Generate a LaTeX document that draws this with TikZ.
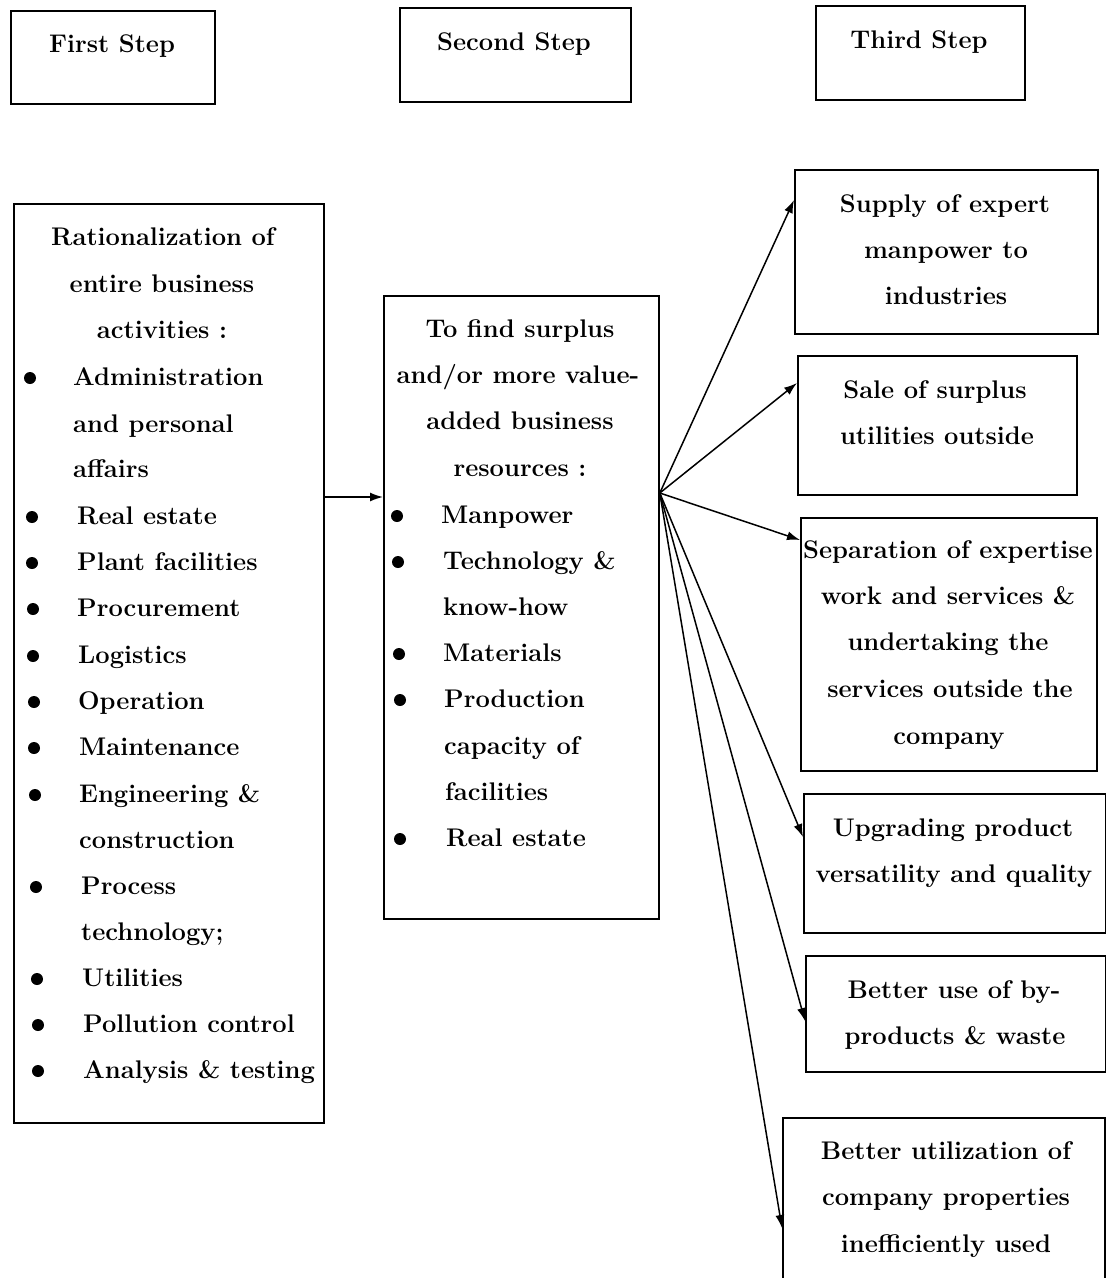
\documentclass[tikz,border=0pt]{standalone}
\usetikzlibrary{arrows.meta}
\newcommand{\dfont}{\fontsize{25.5}{46}\selectfont\bfseries}
\begin{document}
\begin{tikzpicture}[x=1pt,y=-1pt,
  box/.style={draw, line width=1.8pt, inner sep=0, anchor=north west},
  lt/.style={font=\dfont, inner sep=0, anchor=base west, yshift=-7pt},
  ct/.style={font=\dfont, inner sep=0, anchor=base, yshift=-7pt},
  arr/.style={-{Latex[length=13pt,width=9pt]}, line width=1.5pt},
  dot/.style={fill, circle, inner sep=0, minimum size=12pt}]
\useasboundingbox (0,0) rectangle (1106,1278);
\clip (0,0) rectangle (1106,1278);
% step boxes
\node[box, minimum width=204pt, minimum height=93pt] (s1) at (10,10) {};
\node[box, minimum width=231pt, minimum height=94pt] (s2) at (399,7) {};
\node[box, minimum width=209pt, minimum height=94pt] (s3) at (815,5) {};
\node[ct] (s1t) at (112,45) {First Step};
\node[ct] (s2t) at (514,43) {Second Step};
\node[ct] (s3t) at (919,41) {Third Step};
% main boxes
\node[box, minimum width=310pt, minimum height=919pt] (l) at (13,203) {};
\node[box, minimum width=275pt, minimum height=623pt] (m) at (383,295) {};
\node[box, minimum width=303pt, minimum height=164pt] (r1) at (794,169) {};
\node[box, minimum width=279pt, minimum height=139pt] (r2) at (797,355) {};
\node[box, minimum width=296pt, minimum height=253pt] (r3) at (800,517) {};
\node[box, minimum width=302pt, minimum height=139pt] (r4) at (803,793) {};
\node[box, minimum width=300pt, minimum height=116pt] (r5) at (805,955) {};
\node[box, minimum width=322pt, minimum height=200pt] (r6) at (782,1117) {};
% left box text
\node[ct] (l1) at (163,238) {Rationalization of};
\node[ct] (l2) at (162,285) {entire business};
\node[ct] (l3) at (162,331) {activities :};
\node[dot] (b1) at (30,378) {};  \node[lt] (l4) at (73,378) {Administration};
\node[lt] (l5) at (73,425) {and personal};
\node[lt] (l6) at (73,470) {affairs};
\node[dot] (b2) at (32,517) {};  \node[lt] (l7) at (77,517) {Real estate};
\node[dot] (b3) at (32,563) {};  \node[lt] (l8) at (77,563) {Plant facilities};
\node[dot] (b4) at (33,609) {};  \node[lt] (l9) at (77,609) {Procurement};
\node[dot] (b5) at (33,656) {};  \node[lt] (l10) at (78,656) {Logistics};
\node[dot] (b6) at (34,702) {};  \node[lt] (l11) at (78,702) {Operation};
\node[dot] (b7) at (34,748) {};  \node[lt] (l12) at (79,748) {Maintenance};
\node[dot] (b8) at (35,795) {};  \node[lt] (l13) at (79,795) {Engineering \&};
\node[lt] (l14) at (79,841) {construction};
\node[dot] (b9) at (36,887) {};  \node[lt] (l15) at (81,887) {Process};
\node[lt] (l16) at (81,933) {technology;};
\node[dot] (b10) at (37,979) {}; \node[lt] (l17) at (82,979) {Utilities};
\node[dot] (b11) at (38,1025) {}; \node[lt] (l18) at (83,1025) {Pollution control};
\node[dot] (b12) at (38,1071) {}; \node[lt] (l19) at (83,1071) {Analysis \& testing};
% middle box text
\node[ct] (m1) at (520,330) {To find surplus};
\node[ct] (m2) at (518,376) {and/or more value-};
\node[ct] (m3) at (520,422) {added business};
\node[ct] (m4) at (520,469) {resources :};
\node[dot] (c1) at (397,516) {}; \node[lt] (m5) at (441,516) {Manpower};
\node[dot] (c2) at (398,562) {}; \node[lt] (m6) at (443,562) {Technology \&};
\node[lt] (m7) at (443,608) {know-how};
\node[dot] (c3) at (399,654) {}; \node[lt] (m8) at (443,654) {Materials};
\node[dot] (c4) at (400,700) {}; \node[lt] (m9) at (444,700) {Production};
\node[lt] (m10) at (444,747) {capacity of};
\node[lt] (m11) at (445,793) {facilities};
\node[dot] (c5) at (400,839) {}; \node[lt] (m12) at (446,839) {Real estate};
% right boxes text
\node[ct] (t1a) at (945,205) {Supply of expert};
\node[ct] (t1b) at (946,251) {manpower to};
\node[ct] (t1c) at (946,297) {industries};
\node[ct] (t2a) at (935,391) {Sale of surplus};
\node[ct] (t2b) at (937,437) {utilities outside};
\node[ct] (t3a) at (948,551) {Separation of expertise};
\node[ct] (t3b) at (948,597) {work and services \&};
\node[ct] (t3c) at (948,643) {undertaking the};
\node[ct] (t3d) at (950,690) {services outside the};
\node[ct] (t3e) at (949,737) {company};
\node[ct] (t4a) at (953,829) {Upgrading product};
\node[ct] (t4b) at (954,875) {versatility and quality};
\node[ct] (t5a) at (954,991) {Better use of by-};
\node[ct] (t5b) at (955,1037) {products \& waste};
\node[ct] (t6a) at (946,1152) {Better utilization of};
\node[ct] (t6b) at (946,1198) {company properties};
\node[ct] (t6c) at (946,1245) {inefficiently used};
% connectors
\draw[arr] ([yshift=-294pt]l.north east) coordinate (p) -- (p -| m.west);
\coordinate (o) at ([yshift=-198pt]m.north east);
\draw[arr] (o) -- ([yshift=-31pt]r1.north west);
\draw[arr] (o) -- ([yshift=-28pt]r2.north west);
\draw[arr] (o) -- ([yshift=-23pt]r3.north west);
\draw[arr] (o) -- ([yshift=-44pt]r4.north west);
\draw[arr] (o) -- ([yshift=-66pt]r5.north west);
\draw[arr] (o) -- ([yshift=-111pt]r6.north west);
\end{tikzpicture}
\end{document}
